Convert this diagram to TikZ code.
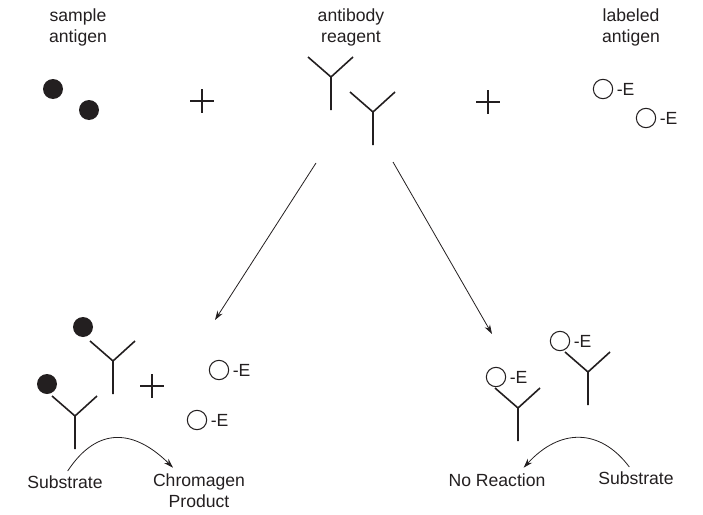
\documentclass[tikz,border=0pt]{standalone}
\usepackage{fontspec}
\setmainfont{Liberation Sans}
\usetikzlibrary{arrows.meta}
\definecolor{inkGray}{HTML}{231F20}

\begin{document}
\begin{tikzpicture}[x=0.75pt,y=-0.75pt,
  txt/.style={font=\fontsize{13.2}{15.75}\selectfont,text=inkGray,align=center,inner sep=0pt,anchor=base},
  antigen/.style={circle,fill=inkGray,inner sep=0pt,minimum size=15pt},
  enzlab/.style={circle,draw=inkGray,line width=0.8pt,inner sep=0pt,minimum size=14.5pt,
    label={[txt,anchor=west,label distance=2.5pt]right:-E}},
  antibody/.style={draw=inkGray,line width=1.2pt},
  plus/.style={draw=inkGray,line width=1pt},
  arr/.style={draw=inkGray,line width=0.6pt,-{Stealth[length=7pt,width=4.5pt]}}]
\useasboundingbox (0,0) rectangle (703,514);

% top row
\node[txt] (sampleTxt) at (78,42) {sample\\antigen};
\node[txt] (reagentTxt) at (351,42) {antibody\\reagent};
\node[txt] (labeledTxt) at (631,42) {labeled\\antigen};
\node[antigen] (smp1) at (53,89) {};
\node[antigen] (smp2) at (89,110) {};
\node[enzlab] (lab1) at (603,89) {};
\node[enzlab] (lab2) at (646,118) {};

% bottom left
\node[antigen] (bnd1) at (83,327) {};
\node[antigen] (bnd2) at (47,384) {};
\node[enzlab] (fre1) at (219,370) {};
\node[enzlab] (fre2) at (197,420) {};
\node[txt] (subL) at (65,488) {Substrate};
\node[txt] (chrom) at (199,507) {Chromagen\\Product};

% bottom right
\node[enzlab] (bnd3) at (560,341) {};
\node[enzlab] (bnd4) at (496,377) {};
\node[txt] (noReact) at (497,486) {No Reaction};
\node[txt] (subR) at (636,484) {Substrate};

% antibodies and plus signs
\foreach \ax/\ay in {331/77, 373/112, 113/361, 75/416, 588/372, 518/408}
  \draw[antibody] (\ax-23,\ay-20) -- (\ax,\ay) -- (\ax+22,\ay-20) (\ax,\ay) -- (\ax,\ay+33);
\foreach \px/\py in {202/101, 488/102, 152/386}
  \draw[plus] (\px-12,\py) -- (\px+12,\py) (\px,\py-12) -- (\px,\py+12);

% reaction arrows
\coordinate (splitL) at (316,163);
\coordinate (splitR) at (393,162);
\coordinate (tipL) at (215,320);
\coordinate (tipR) at (492,334);
\draw[arr] (splitL) -- (tipL);
\draw[arr] (splitR) -- (tipR);
\draw[arr] ([xshift=2pt,yshift=3pt]subL.north) .. controls (98,425) and (135,430) .. ([xshift=-19.5pt,yshift=4pt]chrom.north);
\draw[arr] ([xshift=-5pt,yshift=3pt]subR.north) .. controls (600,428) and (560,428) .. ([xshift=20pt,yshift=4pt]noReact.north);
\end{tikzpicture}
\end{document}
